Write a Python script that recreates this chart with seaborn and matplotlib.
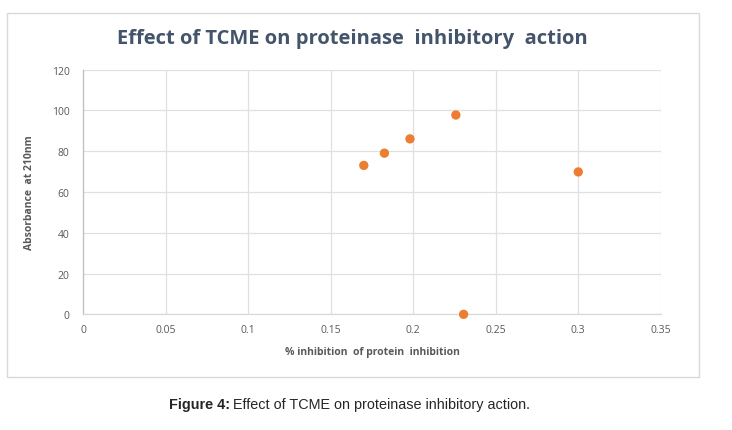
import matplotlib
matplotlib.use("Agg")
import matplotlib.pyplot as plt
from matplotlib.patches import Rectangle
import pandas as pd
import seaborn as sns

# values
inhibition = [0.17, 0.1825, 0.198, 0.2258, 0.2305, 0.30]
absorbance = [73, 79, 86, 97.7, 0, 69.8]
x_ticks = [0, 0.05, 0.1, 0.15, 0.2, 0.25, 0.3, 0.35]
x_labels = ["0", "0.05", "0.1", "0.15", "0.2", "0.25", "0.3", "0.35"]
y_ticks = [0, 20, 40, 60, 80, 100, 120]

df = pd.DataFrame({"inhibition": inhibition, "absorbance": absorbance})

sns.set_theme(style="whitegrid")
plt.rcParams['font.family'] = ['Open Sans', 'DejaVu Sans']

fig = plt.figure(figsize=(7.32, 4.31), dpi=100)
ax = fig.add_axes([0.1138, 0.2684, 0.9027 - 0.1138, 0.8364 - 0.2684])

sns.scatterplot(data=df, x="inhibition", y="absorbance", ax=ax,
                color="#ED7D31", s=45, edgecolor="none", zorder=3, clip_on=False)

ax.set_xlim(0, 0.35)
ax.set_ylim(0, 120)
ax.set_xticks(x_ticks)
ax.set_xticklabels(x_labels)
ax.set_yticks(y_ticks)
ax.tick_params(axis="both", length=0, labelsize=7.5, colors="#595959")
ax.tick_params(axis="x", pad=7)
ax.tick_params(axis="y", pad=10)
ax.grid(True, color="#E0E0E0", linewidth=0.9)
ax.set_facecolor("white")
for side in ["top", "right"]:
    ax.spines[side].set_visible(False)
ax.spines["left"].set_color("#BFBFBF")
ax.spines["bottom"].set_color("#D9D9D9")
ax.spines["left"].set_linewidth(0.9)
ax.spines["bottom"].set_linewidth(0.9)

ax.set_xlabel("% inhibition  of protein  inhibition", fontsize=7.5,
              fontweight="bold", color="#595959", labelpad=8)
ax.set_ylabel("Absorbance  at 210nm", fontsize=7.5,
              fontweight="bold", color="#595959", labelpad=12)

fig.text(0.481, 0.910, "Effect of TCME on proteinase  inhibitory  action",
         ha="center", va="center", fontsize=14.5, fontweight="bold", color="#44546A")

# outer chart frame
fig.patches.append(Rectangle((7 / 732, 1 - 378 / 431), 692 / 732, 364 / 431,
                             transform=fig.transFigure, fill=False,
                             edgecolor="#D9D9D9", linewidth=1))

cap_font = ["Liberation Sans", "DejaVu Sans"]
fig.text(230 / 732, 0.060, "Figure 4:", ha="right", va="center", fontsize=10.4,
         fontweight="bold", family=cap_font)
fig.text(233 / 732, 0.060, "Effect of TCME on proteinase inhibitory action.",
         ha="left", va="center", fontsize=10.4, family=cap_font)

fig.savefig("out.png", dpi=100)
